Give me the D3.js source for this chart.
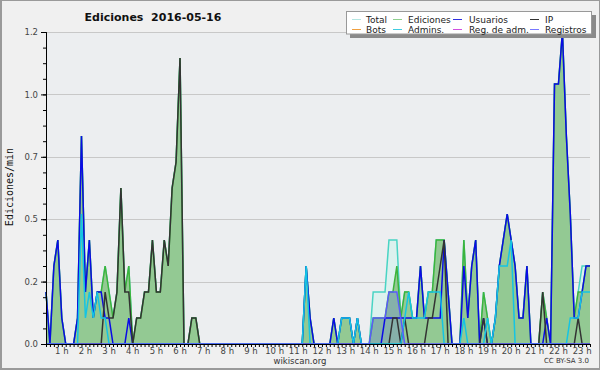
<!DOCTYPE html>
<html><head><meta charset="utf-8">
<script src="https://cdn.jsdelivr.net/npm/d3@7"></script>
<style>body{margin:0;background:#fff}svg{display:block}</style>
</head><body>
<svg id="c" width="600" height="370"></svg>
<script>
// 10-minute bins, values in edits/min
const hourLabels = ["1 h","2 h","3 h","4 h","5 h","6 h","7 h","8 h","9 h","10 h","11 h","12 h","13 h","14 h","15 h","16 h","17 h","18 h","19 h","20 h","21 h","22 h","23 h"];
const yTicks = [0, 0.24, 0.48, 0.72, 0.96, 1.2];

const total = [0.2,0,0.3,0.4,0.1,0,0,0,0.1,0.8,
 0.2,0.4,0.1,0.2,0.2,0.3,0.2,0.1,0.2,0.6,
 0.2,0.3,0,0.1,0.1,0.2,0.2,0.4,0.2,0.2,
 0.4,0.3,0.6,0.7,1.1,0,0,0.1,0.1,0,
 0,0,0,0,0,0,0,0,0,0,
 0,0,0,0,0,0,0,0,0,0,
 0,0,0,0,0,0,0.3,0.1,0,0,
 0,0,0,0.1,0,0.1,0.1,0.1,0,0.1,
 0,0,0,0.2,0.2,0.2,0.2,0.4,0.4,0.4,
 0.1,0.2,0.2,0.1,0.1,0.3,0.1,0.2,0.2,0.4,
 0.4,0.4,0.2,0,0,0,0.4,0.1,0.3,0.4,
 0,0.2,0.1,0,0.1,0.3,0.4,0.5,0.4,0.3,
 0.1,0.1,0.3,0,0,0,0.2,0.1,0,1.0,
 1.0,1.2,0.8,0.5,0.1,0.2,0.3,0.3,0.3];

const ediciones = [0.2,0,0.3,0.4,0.1,0,0,0,0.1,0.8,
 0.2,0.4,0.1,0.2,0.2,0.3,0.2,0.1,0.2,0.6,
 0.2,0.3,0,0.1,0.1,0.2,0.2,0.4,0.2,0.2,
 0.4,0.3,0.6,0.7,1.1,0,0,0.1,0.1,0,
 0,0,0,0,0,0,0,0,0,0,
 0,0,0,0,0,0,0,0,0,0,
 0,0,0,0,0,0,0.3,0.1,0,0,
 0,0,0,0.1,0,0.1,0.1,0.1,0,0.1,
 0,0,0,0.1,0.1,0.1,0.1,0.2,0.2,0.3,
 0.1,0.2,0.2,0.1,0.1,0.3,0.1,0.2,0.2,0.4,
 0.4,0.4,0.2,0,0,0,0.4,0.1,0.3,0.4,
 0,0.2,0.1,0,0.1,0.3,0.4,0.5,0.4,0.3,
 0.1,0.1,0.3,0,0,0,0.2,0.1,0,1.0,
 1.0,1.2,0.8,0.5,0.1,0.2,0.2,0.3,0.3];

const usuarios = [0.2,0,0.3,0.4,0.1,0,0,0,0.1,0.8,
 0.2,0.4,0.1,0.2,0.2,0.1,0.1,0,0,0,
 0,0.1,0,0,0,0,0,0,0,0,
 0,0,0,0,0,0,0,0,0,0,
 0,0,0,0,0,0,0,0,0,0,
 0,0,0,0,0,0,0,0,0,0,
 0,0,0,0,0,0,0.3,0.1,0,0,
 0,0,0,0.1,0,0.1,0.1,0.1,0,0.1,
 0,0,0,0,0,0,0.1,0.1,0.1,0.1,
 0.1,0.1,0.1,0.1,0.1,0.3,0.1,0.1,0.1,0.1,
 0.1,0.4,0.2,0,0,0,0.3,0.1,0.3,0.4,
 0,0.1,0,0,0.1,0.3,0.4,0.5,0.4,0.3,
 0.1,0.1,0.3,0,0,0,0,0.1,0,1.0,
 1.0,1.2,0.8,0.5,0.1,0.1,0.2,0.3,0.3];

const ip = [0,0,0,0,0,0,0,0,0,0,
 0,0,0,0,0,0.2,0.1,0.1,0.2,0.6,
 0.2,0.2,0,0.1,0.1,0.2,0.2,0.4,0.2,0.2,
 0.4,0.3,0.6,0.7,1.1,0,0,0.1,0.1,0,
 0,0,0,0,0,0,0,0,0,0,
 0,0,0,0,0,0,0,0,0,0,
 0,0,0,0,0,0,0,0,0,0,
 0,0,0,0,0,0,0,0,0,0,
 0,0,0,0,0,0,0,0,0.1,0.1,
 0,0.1,0,0,0,0,0,0.1,0.1,0.2,
 0.3,0.4,0,0,0,0,0,0,0,0,
 0,0.1,0,0,0,0,0,0,0,0,
 0,0,0,0,0,0,0.2,0,0,0,
 0,0,0,0,0,0.1,0,0,0];

const admins = [0,0,0,0,0,0,0,0,0,0.5,
 0.1,0.2,0.1,0.2,0.1,0.1,0,0,0,0,
 0,0,0,0,0,0,0,0,0,0,
 0,0,0,0,0,0,0,0,0,0,
 0,0,0,0,0,0,0,0,0,0,
 0,0,0,0,0,0,0,0,0,0,
 0,0,0,0,0,0,0.3,0,0,0,
 0,0,0,0,0,0.1,0.1,0.1,0,0.1,
 0,0,0,0,0,0,0,0,0,0,
 0,0.1,0.2,0.1,0.1,0.1,0.1,0.2,0.2,0.2,
 0.2,0,0,0,0,0,0.1,0,0,0,
 0,0,0.1,0,0.1,0.3,0.3,0.3,0.4,0,
 0,0,0,0,0,0,0,0,0,0,
 0,0,0,0.1,0.1,0.1,0.2,0.2,0.2];

const registros = [0,0,0,0,0,0,0,0,0,0,
 0,0,0,0,0,0,0,0,0,0,
 0,0,0,0,0,0,0,0,0,0,
 0,0,0,0,0,0,0,0,0,0,
 0,0,0,0,0,0,0,0,0,0,
 0,0,0,0,0,0,0,0,0,0,
 0,0,0,0,0,0,0,0,0,0,
 0,0,0,0,0,0,0,0,0,0,
 0,0,0,0.1,0.1,0.1,0.1,0.2,0.2,0.2,
 0.1,0,0,0,0,0,0,0,0,0,
 0,0,0,0,0,0,0,0,0,0,
 0,0,0,0,0,0,0,0,0,0,
 0,0,0,0,0,0,0,0,0,0,
 0,0,0,0,0,0,0,0,0];

const legendItems = ["Total","Ediciones","Usuarios","IP","Bots","Admins.","Reg. de adm.","Registros"];
const legendColors = ["#b4e6e2","#8fd08f","#3030e0","#333333","#f0a040","#40cce0","#d050e0","#7878ff"];

const svg = d3.select("#c");
const W = 600, H = 370;
const L = 46, R = 590, T = 32, B = 344;

// background and frame
svg.append("rect").attr("x",0).attr("y",0).attr("width",W).attr("height",H).attr("fill","#9a9a9a");
svg.append("rect").attr("x",2).attr("y",1).attr("width",W-3).attr("height",H-3).attr("fill","#f0f0f0");

const n = ediciones.length;
const x = d3.scaleLinear().domain([0, n-1]).range([L, R]);
const y = d3.scaleLinear().domain([0, 1.2]).range([B, T]);

svg.append("rect").attr("x",L).attr("y",T).attr("width",R-L).attr("height",B-T).attr("fill","#eceef0");

// grid
svg.append("g").selectAll("line").data(yTicks.slice(1)).join("line")
  .attr("x1",L).attr("x2",R).attr("y1",d=>Math.round(y(d))+0.5).attr("y2",d=>Math.round(y(d))+0.5)
  .attr("stroke","#c8c8c8").attr("stroke-width",1);

const plot = svg.append("g");
const area = d3.area().x((d,i)=>x(i)).y0(B).y1(d=>y(d));
const line = d3.line().x((d,i)=>x(i)).y(d=>y(d));

plot.append("path").attr("d",area(total)).attr("fill","#dcf1ee");
plot.append("path").attr("d",line(total)).attr("fill","none").attr("stroke","#48d4c4").attr("stroke-width",1.5);
plot.append("path").attr("d",area(ediciones)).attr("fill","#93c993");
plot.append("path").attr("d",area(registros)).attr("fill","#5a5aff").attr("fill-opacity",0.22);
plot.append("path").attr("d",line(ediciones)).attr("fill","none").attr("stroke","#3cb43c").attr("stroke-width",1.5);
plot.append("path").attr("d",line(usuarios)).attr("fill","none").attr("stroke","#0a0ae6").attr("stroke-width",1.5);
plot.append("path").attr("d",line(ip)).attr("fill","none").attr("stroke","#333333").attr("stroke-width",1.5);
plot.append("path").attr("d",line(admins)).attr("fill","none").attr("stroke","#14c4e4").attr("stroke-width",1.5);
plot.append("path").attr("d",line(registros)).attr("fill","none").attr("stroke","#5a5aff").attr("stroke-width",1.5);

// axes
const minorY = d3.range(0, 1.2001, 0.06);
const yAxis = svg.append("g").attr("transform",`translate(${L},0)`);
yAxis.call(d3.axisLeft(y).tickValues(minorY).tickSize(3).tickFormat(""));
yAxis.append("g").call(d3.axisLeft(y).tickValues(yTicks).tickSize(5).tickFormat(d3.format(".1f")));
yAxis.selectAll(".domain").attr("stroke","#000");
yAxis.selectAll("line").attr("stroke","#000");
yAxis.selectAll("text").attr("font-family","DejaVu Sans").attr("font-size",8.5).attr("fill","#444").attr("dx",0);

const xAxis = svg.append("g").attr("transform",`translate(0,${B})`);
xAxis.call(d3.axisBottom(x).tickValues(d3.range(0,n)).tickSize(3).tickFormat(""));
xAxis.selectAll(".domain").attr("stroke","#000");
xAxis.selectAll("line").attr("stroke","#000");
xAxis.append("g").selectAll("text").data(hourLabels).join("text")
  .attr("x",(d,i)=>x(6*(i+1)-2)).attr("y",9.5)
  .attr("text-anchor","middle").attr("font-family","DejaVu Sans").attr("font-size",8.5).attr("fill","#444")
  .text(d=>d);

// title
svg.append("text").attr("x",153).attr("y",21).attr("text-anchor","middle")
  .attr("font-family","DejaVu Sans").attr("font-weight","bold").attr("font-size",11).attr("fill","#111")
  .attr("xml:space","preserve").text("Ediciones  2016-05-16");

// y label
svg.append("text").attr("transform","translate(13,187) rotate(-90)").attr("text-anchor","middle")
  .attr("font-family","DejaVu Sans Mono").attr("font-size",10).attr("fill","#111").text("Ediciones/min");

// footer
svg.append("text").attr("x",300).attr("y",364).attr("text-anchor","middle")
  .attr("font-family","DejaVu Sans").attr("font-size",8.5).attr("fill","#333").text("wikiscan.org");
svg.append("text").attr("x",589).attr("y",363).attr("text-anchor","end")
  .attr("font-family","DejaVu Sans").attr("font-size",7).attr("fill","#333").text("CC BY-SA 3.0");

// legend
const lg = svg.append("g");
lg.append("rect").attr("x",350).attr("y",15).attr("width",246).attr("height",23).attr("fill","#8a8a8a");
lg.append("rect").attr("x",346.5).attr("y",11.5).attr("width",245).attr("height",22.5).attr("fill","#fff").attr("stroke","#999");
const colLine = [352, 393, 453, 530], colText = [366, 408, 469, 545];
legendItems.forEach((name,i)=>{
  const c = i%4, r = Math.floor(i/4);
  const cy = 19.5 + r*10;
  lg.append("line").attr("x1",colLine[c]).attr("x2",colLine[c]+9).attr("y1",cy).attr("y2",cy)
    .attr("stroke",legendColors[i]).attr("stroke-width",1);
  lg.append("text").attr("x",colText[c]).attr("y",cy+3.5).attr("font-family","DejaVu Sans").attr("font-size",9)
    .attr("fill","#222").text(name);
});
</script>
</body></html>
